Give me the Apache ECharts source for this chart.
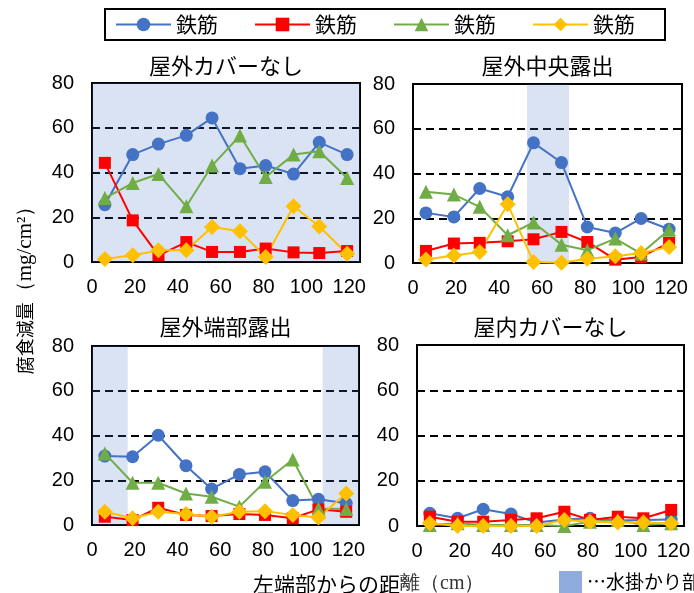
<!DOCTYPE html>
<html><head><meta charset="utf-8">
<script src="https://cdn.jsdelivr.net/npm/echarts@6/dist/echarts.min.js"></script>
<style>html,body{margin:0;padding:0;background:#fff}#c{width:694px;height:593px}</style>
</head><body><div id="c"></div>
<script>
// ---- data ----
const panelTitles = ['屋外カバーなし', '屋外中央露出', '屋外端部露出', '屋内カバーなし'];
const seriesNames = ['鉄筋1', '鉄筋2', '鉄筋3', '鉄筋4'];
const legendLabel = '鉄筋';
const wetLabel = '…水掛かり部';
const distance = [6, 19, 31, 44, 56, 69, 81, 94, 106, 119];
const xTicks = [0, 20, 40, 60, 80, 100, 120];
const yTicks = [0, 20, 40, 60, 80];
const wetZones = [
  [[0, 125]],
  [[53, 72.5]],
  [[0, 16.7], [108, 125]],
  []
];
// panel 1: 屋外カバーなし
const p1Blue   = [25.6, 48.0, 52.7, 56.6, 64.4, 41.7, 43.1, 39.3, 53.5, 48.0];
const p1Red    = [44.3, 18.6, 3.0, 8.9, 4.5, 4.5, 6.0, 4.3, 4.0, 4.9];
const p1Green  = [28.6, 35.3, 39.3, 24.9, 43.1, 56.5, 38.0, 48.0, 49.5, 37.5];
const p1Yellow = [1.3, 3.0, 5.2, 5.2, 15.6, 13.7, 2.2, 24.9, 15.9, 3.7];
// panel 2: 屋外中央露出
const p2Blue   = [22.4, 20.6, 33.3, 29.6, 53.7, 44.9, 16.1, 13.4, 19.9, 15.1];
const p2Red    = [5.4, 8.7, 9.0, 9.7, 10.6, 13.9, 9.4, 1.5, 2.7, 9.0];
const p2Green  = [31.8, 30.6, 25.1, 12.4, 18.1, 8.2, 5.7, 10.9, 4.2, 14.9];
const p2Yellow = [1.6, 3.4, 4.9, 26.3, 0.4, 0.1, 1.9, 3.0, 4.5, 7.2];
// panel 3: 屋外端部露出
const p3Blue   = [30.8, 30.5, 40.1, 26.5, 16.1, 22.6, 23.8, 10.9, 11.5, 9.7];
const p3Red    = [3.7, 2.2, 7.7, 4.5, 4.0, 4.9, 4.5, 3.0, 7.0, 5.9];
const p3Green  = [32.0, 18.9, 18.9, 14.1, 12.6, 8.2, 19.3, 29.3, 7.4, 7.1];
const p3Yellow = [5.9, 3.0, 5.9, 4.9, 3.7, 5.9, 6.2, 4.5, 3.3, 14.1];
// panel 4: 屋内カバーなし
const p4Blue   = [5.6, 3.4, 7.4, 5.3, 1.5, 2.9, 3.4, 2.4, 2.7, 2.9];
const p4Red    = [4.1, 1.9, 1.9, 2.7, 3.4, 6.3, 2.7, 4.1, 3.4, 7.1];
const p4Green  = [0.4, 1.2, 0.4, 0.4, 0.4, 0.0, 1.9, 2.7, 0.4, 1.2];
const p4Yellow = [1.2, 0.0, 0.0, 0.0, 0.0, 2.7, 1.9, 1.5, 1.5, 1.2];
const panelData = [
  [p1Blue, p1Red, p1Green, p1Yellow],
  [p2Blue, p2Red, p2Green, p2Yellow],
  [p3Blue, p3Red, p3Green, p3Yellow],
  [p4Blue, p4Red, p4Green, p4Yellow]
];

// ---- styling / layout ----
const grids = [
  {left: 92, top: 83, width: 268, height: 179},
  {left: 413, top: 84, width: 269, height: 179},
  {left: 92, top: 346, width: 267, height: 179},
  {left: 417, top: 345, width: 267, height: 181}
];
const titleTops = [55, 55, 316, 316];
const colors = ['#4472C4', '#FF0000', '#70AD47', '#FFC000'];
const symbols = ['circle', 'rect', 'triangle', 'diamond'];
const symbolSizes = [13, 12, 14, 16];
const latin = 'Liberation Sans, Arial, sans-serif';
const jp = 'Noto Sans CJK JP, sans-serif';

const chart = echarts.init(document.getElementById('c'), null, {renderer: 'canvas'});

const series = [];
panelData.forEach((arrs, pi) => {
  arrs.forEach((vals, si) => {
    series.push({
      name: seriesNames[si], type: 'line', xAxisIndex: pi, yAxisIndex: pi,
      data: vals.map((v, k) => [distance[k], v]),
      symbol: symbols[si], symbolSize: symbolSizes[si],
      lineStyle: {color: colors[si], width: 2},
      itemStyle: {color: colors[si]},
      z: 2, silent: true
    });
  });
  if (wetZones[pi].length) {
    series.push({
      name: wetLabel, type: 'line', xAxisIndex: pi, yAxisIndex: pi, data: [],
      itemStyle: {color: '#8FAADC'}, lineStyle: {color: '#8FAADC'},
      z: 5, silent: true,
      markArea: {
        silent: true,
        itemStyle: {color: 'rgba(68,114,196,0.2)'},
        data: wetZones[pi].map(z => [{xAxis: z[0]}, {xAxis: z[1]}])
      }
    });
  }
});

const option = {
  animation: false,
  backgroundColor: '#fff',
  title: panelTitles.map((t, i) => ({
    text: t, left: grids[i].left + grids[i].width / 2, top: titleTops[i],
    textAlign: 'center', padding: 0,
    textStyle: {fontFamily: jp, fontSize: 22, fontWeight: 'normal', color: '#000'}
  })),
  legend: [
    {
      data: seriesNames, left: 105, top: 9,
      padding: [5, 30, 5, 10], borderColor: '#000', borderWidth: 2,
      itemWidth: 55, itemHeight: 17, itemGap: 36,
      formatter: () => legendLabel,
      textStyle: {fontFamily: jp, fontSize: 21, color: '#000'},
      selectedMode: false
    },
    {
      data: [wetLabel], left: 559, top: 571, padding: 0,
      icon: 'rect', itemWidth: 23, itemHeight: 22,
      textStyle: {fontFamily: jp, fontSize: 19, color: '#000'},
      selectedMode: false
    }
  ],
  grid: grids.map(g => Object.assign({
    show: true, borderColor: '#000', borderWidth: 2, backgroundColor: 'transparent',
    containLabel: false, outerBoundsMode: 'none'
  }, g)),
  xAxis: grids.map((g, i) => ({
    gridIndex: i, type: 'value', min: 0, max: 125, interval: 20,
    axisLine: {show: false}, axisTick: {show: false}, splitLine: {show: false},
    axisLabel: {
      margin: 15, fontFamily: latin, fontSize: 20, color: '#000',
      formatter: v => (xTicks.indexOf(v) >= 0 ? String(v) : '')
    }
  })),
  yAxis: grids.map((g, i) => ({
    gridIndex: i, type: 'value', min: 0, max: 80, interval: 20,
    axisLine: {show: false}, axisTick: {show: false},
    splitLine: {show: true, lineStyle: {color: '#000', width: 2, type: [8, 5]}},
    axisLabel: {
      margin: 18, fontFamily: latin, fontSize: 20, color: '#000',
      formatter: v => (yTicks.indexOf(v) >= 0 ? String(v) : '')
    }
  })),
  series: series,
  graphic: [
    {
      type: 'text', x: 25, y: 285, rotation: Math.PI / 2,
      style: {
        text: '{a|腐食減量}{b|（mg/cm²）}',
        textAlign: 'center', textVerticalAlign: 'middle',
        rich: {
          a: {fontFamily: jp, fontSize: 18, fill: '#000', color: '#000'},
          b: {fontFamily: 'Liberation Serif, DejaVu Serif, serif', fontSize: 21, fill: '#000', color: '#000'}
        }
      }
    },
    {
      type: 'text', x: 253, y: 584,
      style: {
        text: '{a|左端部からの距}{b|離（cm）}',
        textAlign: 'left', textVerticalAlign: 'middle',
        rich: {
          a: {fontFamily: jp, fontSize: 21, fill: '#000', color: '#000'},
          b: {fontFamily: 'Liberation Serif, DejaVu Serif, serif', fontSize: 20, fill: '#333', color: '#333'}
        }
      }
    }
  ]
};
chart.setOption(option);
</script>
</body></html>
